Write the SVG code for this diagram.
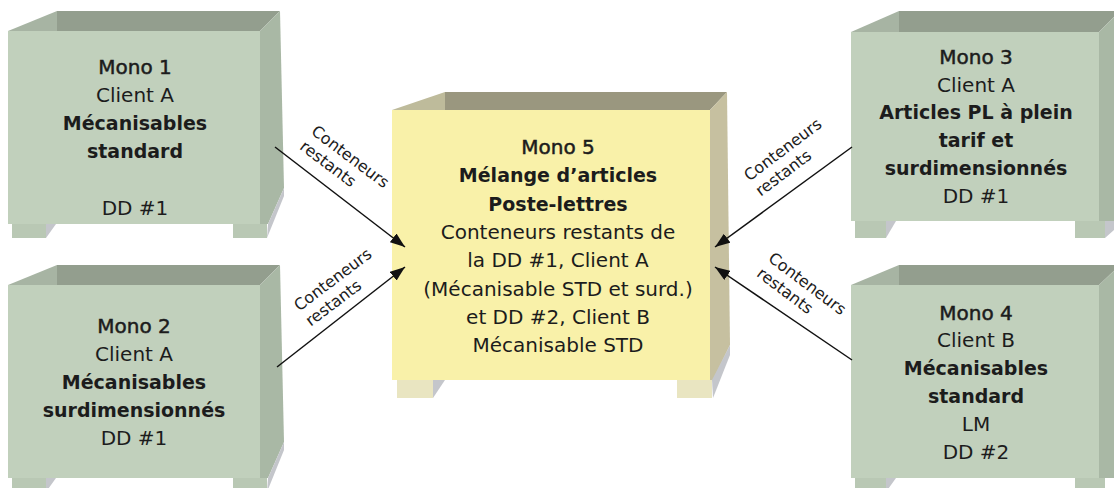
<svg xmlns="http://www.w3.org/2000/svg" width="1114" height="488" viewBox="0 0 1114 488">
<style>
.gf{fill:#c1d0bc}.gb{fill:#939e8e}.gl{fill:#a7b4a3}.gs{fill:#a9b8a5}.gft{fill:#b9c8b4}
.yf{fill:#f9f1a9}.yb{fill:#9a977f}.yl{fill:#bebb9b}.ys{fill:#c6c0a0}.yft{fill:#e9e5c1}
.sh{fill:#c4c6cb}
text{font-family:"DejaVu Sans","Liberation Sans",sans-serif;font-size:20px;fill:#1c1c1c;text-anchor:middle}
.b{font-weight:bold;font-size:19px}
.m{stroke:#1c1c1c;stroke-width:0.5}
.lbl{font-size:16px;text-anchor:start}
.conn line{stroke:#111;stroke-width:1.5;marker-end:url(#ah)}
</style>
<defs>
<marker id="ah" markerUnits="userSpaceOnUse" markerWidth="15" markerHeight="11" refX="15" refY="5.5" orient="auto">
<path d="M0,0 L15,5.5 L0,11 z" fill="#111"/>
</marker>
</defs>

<g id="mono1">
<polygon class="gb" points="57,11 280,11 260,31 57,31"/>
<polygon class="gl" points="8,31 57,11 57,31"/>
<polygon class="gs" points="260,31 280,11 284,188 268,224 260,224"/>
<rect class="gf" x="8" y="31" width="252" height="193"/>
<rect class="gft" x="12" y="224" width="34" height="14"/>
<polygon class="sh" points="46,224 56,224 46,238"/>
<rect class="gft" x="233" y="224" width="34" height="14"/>
<polygon class="sh" points="268,224 284,188 284,196 267,238"/>
<text class="m" x="135" y="74">Mono 1</text>
<text x="135" y="102">Client A</text>
<text class="b" x="135" y="130">Mécanisables</text>
<text class="b" x="135" y="158">standard</text>
<text x="135" y="215">DD #1</text>
</g>

<g id="mono2">
<polygon class="gb" points="57,265 280,265 260,285 57,285"/>
<polygon class="gl" points="8,285 57,265 57,285"/>
<polygon class="gs" points="260,285 280,265 284,442 268,478 260,478"/>
<rect class="gf" x="8" y="285" width="252" height="193"/>
<rect class="gft" x="12" y="478" width="34" height="14"/>
<polygon class="sh" points="46,478 56,478 46,492"/>
<rect class="gft" x="233" y="478" width="34" height="14"/>
<polygon class="sh" points="268,478 284,442 284,450 267,492"/>
<text class="m" x="134" y="333">Mono 2</text>
<text x="134" y="361">Client A</text>
<text class="b" x="134" y="389">Mécanisables</text>
<text class="b" x="134" y="417">surdimensionnés</text>
<text x="134" y="445">DD #1</text>
</g>

<g id="mono3">
<polygon class="gb" points="899,11 1120,11 1099,32 899,32"/>
<polygon class="gl" points="851,32 899,11 899,32"/>
<polygon class="gs" points="1099,32 1120,11 1120,221 1099,221"/>
<rect class="gf" x="851" y="32" width="248" height="189"/>
<rect class="gft" x="855" y="221" width="31" height="17"/>
<polygon class="sh" points="886,221 896,221 886,238"/>
<rect class="gft" x="1075" y="221" width="30" height="17"/>
<polygon class="sh" points="1105,221 1114,221 1114,230 1105,238"/>
<text class="m" x="976" y="64">Mono 3</text>
<text x="976" y="92">Client A</text>
<text class="b" x="976" y="119">Articles PL à plein</text>
<text class="b" x="976" y="147">tarif et</text>
<text class="b" x="976" y="175">surdimensionnés</text>
<text x="976" y="203">DD #1</text>
</g>

<g id="mono4">
<polygon class="gb" points="899,265 1120,265 1099,285 899,285"/>
<polygon class="gl" points="851,285 899,265 899,285"/>
<polygon class="gs" points="1099,285 1120,265 1120,478 1099,478"/>
<rect class="gf" x="851" y="285" width="248" height="193"/>
<rect class="gft" x="855" y="478" width="31" height="14"/>
<polygon class="sh" points="886,478 896,478 886,492"/>
<rect class="gft" x="1075" y="478" width="30" height="14"/>
<text class="m" x="976" y="320">Mono 4</text>
<text x="976" y="347">Client B</text>
<text class="b" x="976" y="375">Mécanisables</text>
<text class="b" x="976" y="403">standard</text>
<text x="976" y="431">LM</text>
<text x="976" y="459">DD #2</text>
</g>

<g id="mono5">
<polygon class="yb" points="445,92 727,92 710,110 445,110"/>
<polygon class="yl" points="392,110 445,92 445,110"/>
<polygon class="ys" points="710,110 727,92 730,345 713,380 710,380"/>
<rect class="yf" x="392" y="110" width="318" height="270"/>
<rect class="yft" x="397" y="380" width="36" height="18"/>
<polygon class="sh" points="433,380 445,380 433,398"/>
<rect class="yft" x="677" y="380" width="35" height="18"/>
<polygon class="sh" points="712,380 730,345 730,355 713,398"/>
<text class="m" x="558" y="154">Mono 5</text>
<text class="b" x="558" y="182">Mélange d’articles</text>
<text class="b" x="558" y="211">Poste-lettres</text>
<text x="558" y="239">Conteneurs restants de</text>
<text x="558" y="267">la DD #1, Client A</text>
<text x="558" y="296">(Mécanisable STD et surd.)</text>
<text x="558" y="324">et DD #2, Client B</text>
<text x="558" y="352">Mécanisable STD</text>
</g>

<g id="connectors" class="conn">
<line x1="275" y1="147" x2="405" y2="247"/>
<line x1="277" y1="367" x2="405" y2="267"/>
<line x1="852" y1="147" x2="715" y2="247"/>
<line x1="852" y1="360" x2="715" y2="267"/>
</g>

<g id="labels">
<text class="lbl" transform="translate(310.2,133.3) rotate(37)"><tspan x="0" y="0">Conteneurs</tspan><tspan x="0" y="19">restants</tspan></text>
<text class="lbl" transform="translate(299.2,311.7) rotate(-37)"><tspan x="0" y="0">Conteneurs</tspan><tspan x="0" y="19">restants</tspan></text>
<text class="lbl" transform="translate(749.2,181.7) rotate(-37)"><tspan x="0" y="0">Conteneurs</tspan><tspan x="0" y="19">restants</tspan></text>
<text class="lbl" transform="translate(767.2,260.3) rotate(37)"><tspan x="0" y="0">Conteneurs</tspan><tspan x="0" y="19">restants</tspan></text>
</g>
</svg>
